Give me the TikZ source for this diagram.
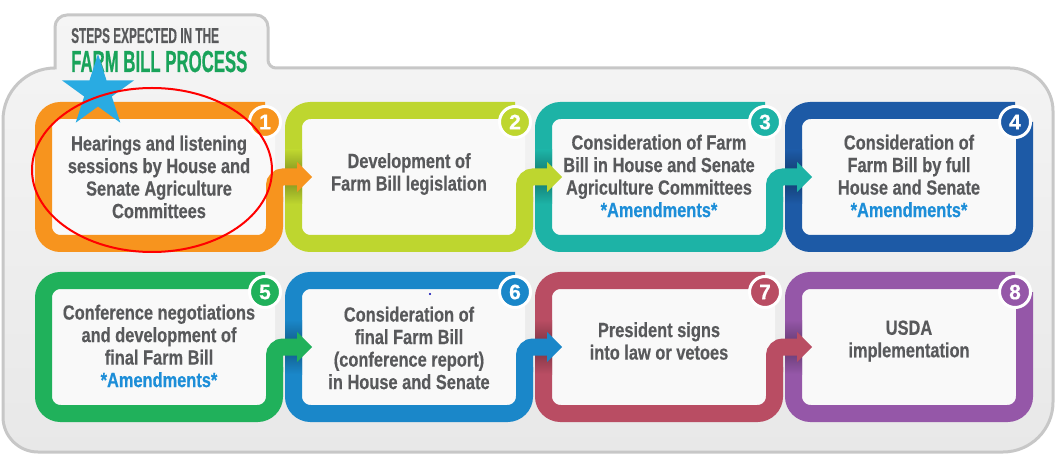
\documentclass[tikz,border=0pt]{standalone}
\usepackage{fontspec}
\newfontfamily\boxfont{Liberation Sans}[FakeStretch=0.8, FakeBold=0.4]
\newfontfamily\titlefont{Liberation Sans}[FakeStretch=0.55, FakeBold=0.4]
\newfontfamily\numfont{Liberation Sans}[FakeBold=0.6]
\definecolor{c1}{HTML}{F7941E}
\definecolor{c2}{HTML}{BED62F}
\definecolor{c3}{HTML}{1DB3A6}
\definecolor{c4}{HTML}{1D5AA6}
\definecolor{c5}{HTML}{20B15B}
\definecolor{c6}{HTML}{1A87C9}
\definecolor{c7}{HTML}{B94D63}
\definecolor{c8}{HTML}{9557A8}
\definecolor{textgrey}{HTML}{58595B}
\definecolor{titlegreen}{HTML}{19A35A}
\definecolor{amend}{HTML}{1D8ED8}
\definecolor{starblue}{HTML}{29ABE2}
\definecolor{boxfill}{HTML}{F9F9F9}
\newcommand{\fbbox}[4]{%
  \fill[boxfill, rounded corners=10] ({#1+8},{#2+8}) rectangle ({#1+240},{#2+142});
  \ifnum#4=1
    \draw[line width=17, #3, rounded corners=17] ({#1+230},{#2+8.5}) -- ({#1+8.5},{#2+8.5}) -- ({#1+8.5},{#2+141.5}) -- ({#1+239.5},{#2+141.5}) -- ({#1+239.5},{#2+95});
    \draw[line width=17, #3, rounded corners=8.5] ({#1+239.5},{#2+100}) -- ({#1+239.5},{#2+75}) -- ({#1+262},{#2+75});
    \fill[#3] ({#1+262},{#2+60}) -- ({#1+277},{#2+75}) -- ({#1+262},{#2+90}) -- cycle;
  \else
    \draw[line width=17, #3, rounded corners=17] ({#1+230},{#2+8.5}) -- ({#1+8.5},{#2+8.5}) -- ({#1+8.5},{#2+141.5}) -- ({#1+239.5},{#2+141.5}) -- ({#1+239.5},{#2+20});
  \fi
}
\newcommand{\fbband}[3]{%
  \shade[top color=#3, bottom color=#3, middle color=#3!65!black] ({#1},{#2+48}) rectangle ({#1+17},{#2+102});
}
\tikzset{
  boxtext/.style={font=\boxfont\bfseries\fontsize{20.5}{22.5}\selectfont, text=textgrey, align=center, inner sep=0pt},
  numcirc/.style={circle, fill=#1, draw=white, line width=3, minimum size=31, inner sep=0pt, text=white, font=\numfont\bfseries\fontsize{21}{21}\selectfont},
}
\begin{document}
\begin{tikzpicture}[x=1pt,y=-1pt]
\useasboundingbox (0,0) rectangle (1057,454);
% panel
\path[draw=black!22, line width=3, top color=white!96!black, bottom color=white!91!black]
  (55,68) -- (55,27) .. controls (55,20.4) and (60.4,15) .. (67,15)
  -- (256,15) .. controls (262.6,15) and (268,20.4) .. (268,27)
  -- (268,60) .. controls (268,64.4) and (271.6,68) .. (276,68)
  -- (1010,68) .. controls (1033.7,68) and (1053,87.3) .. (1053,111)
  -- (1053,402) .. controls (1053,429.6) and (1030.6,452) .. (1003,452)
  -- (38,452) .. controls (18.7,452) and (3,436.3) .. (3,417)
  -- (3,120) .. controls (3,91.3) and (26.3,68) .. (55,68) -- cycle;
% title
\node[anchor=base west, inner sep=0pt, text=textgrey, font=\titlefont\bfseries\fontsize{21.5}{21.5}\selectfont] (title1) at (71,43) {STEPS EXPECTED IN THE};
\node[anchor=base west, inner sep=0pt, text=titlegreen, font=\titlefont\bfseries\fontsize{30.5}{30.5}\selectfont] (title2) at (71,72) {FARM BILL PROCESS};
% row 1
\fbbox{785}{102}{c4}{0}
\fbband{785}{102}{c4}
\fbbox{535}{102}{c3}{1}
\fbband{535}{102}{c3}
\fbbox{285}{102}{c2}{1}
\fbband{285}{102}{c2}
\fbbox{35}{102}{c1}{1}
% row 2
\fbbox{785}{272}{c8}{0}
\fbband{785}{272}{c8}
\fbbox{535}{272}{c7}{1}
\fbband{535}{272}{c7}
\fbbox{285}{272}{c6}{1}
\fbband{285}{272}{c6}
\fbbox{35}{272}{c5}{1}
% texts
\node[boxtext] (s1) at (159,177) {Hearings and listening\\sessions by House and\\Senate Agriculture\\Committees};
\node[boxtext] (s2) at (409,174) {Development of\\Farm Bill legislation};
\node[boxtext] (s3) at (659,176) {Consideration of Farm\\Bill in House and Senate\\Agriculture Committees\\{\color{amend}*Amendments*}};
\node[boxtext] (s4) at (909,176) {Consideration of\\Farm Bill by full\\House and Senate\\{\color{amend}*Amendments*}};
\node[boxtext] (s5) at (159,346) {Conference negotiations\\and development of\\final Farm Bill\\{\color{amend}*Amendments*}};
\node[boxtext] (s6) at (409,348) {Consideration of\\final Farm Bill\\(conference report)\\in House and Senate};
\node[boxtext] (s7) at (659,341) {President signs\\into law or vetoes};
\node[boxtext] (s8) at (909,341) {USDA\\implementation};
% numbers
\node[numcirc=c1] (n1) at (265,122) {1};
\node[numcirc=c2] (n2) at (515,122) {2};
\node[numcirc=c3] (n3) at (765,122) {3};
\node[numcirc=c4] (n4) at (1015,122) {4};
\node[numcirc=c5] (n5) at (265,292) {5};
\node[numcirc=c6] (n6) at (515,292) {6};
\node[numcirc=c7] (n7) at (765,292) {7};
\node[numcirc=c8] (n8) at (1015,292) {8};
% stray dot
\fill[blue!70!black] (430,294) circle (1.2);
% star
\fill[starblue] (98,54) -- (89.5,80.3) -- (61.9,80.3) -- (84.2,96.5) -- (75.7,122.7) -- (98,106.5) -- (120.3,122.7) -- (111.8,96.5) -- (134.1,80.3) -- (106.5,80.3) -- cycle;
% red ellipse
\draw[red, line width=2] (152,170) ellipse [x radius=120, y radius=82];
\end{tikzpicture}
\end{document}
